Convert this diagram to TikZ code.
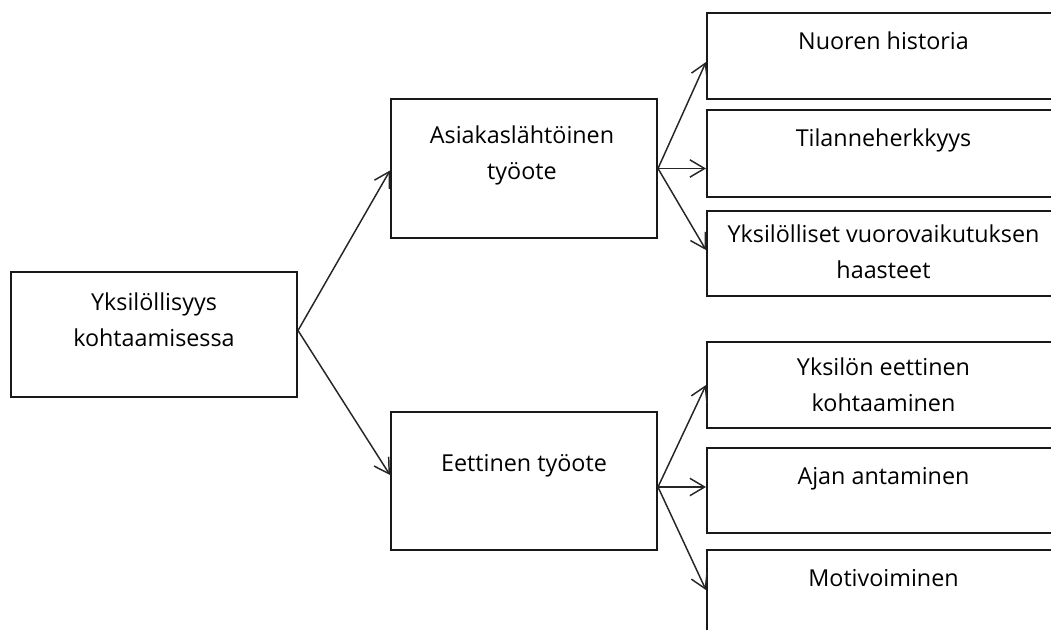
\documentclass[tikz,border=0pt]{standalone}
\usepackage{fontspec}
\setmainfont{Open Sans}
\usetikzlibrary{arrows.meta,fit}
\begin{document}
\begin{tikzpicture}[x=0.75pt,y=-0.75pt,
  box/.style={draw=black!90, line width=1.5pt, rectangle, inner sep=0pt},
  lbl/.style={anchor=base, inner sep=0pt, align=center,
    font=\fontsize{17.5}{27.5}\selectfont, text=black},
  link/.style={draw=black!85, line width=1.1pt,
    -{Straight Barb[length=11pt,width=13pt,line width=1.1pt]}}]
\fill[white] (0,0) rectangle (1051,630);
\clip (0,0) rectangle (1051,630);

% boxes
\node[box, fit={(11,272) (297,397)}] (L) {};
\node[box, fit={(391,99) (657,238)}] (A) {};
\node[box, fit={(391,412) (657,550)}] (B) {};
\node[box, fit={(707,13) (1060,99)}] (R1) {};
\node[box, fit={(707,110) (1060,197)}] (R2) {};
\node[box, fit={(707,211) (1060,296)}] (R3) {};
\node[box, fit={(707,342) (1060,428)}] (R4) {};
\node[box, fit={(707,448) (1060,533)}] (R5) {};
\node[box, fit={(707,550) (1060,636)}] (R6) {};

% labels (base anchor sits on the last line)
\node[lbl] (Lt) at (154,347) {Yksilöllisyys\\kohtaamisessa};
\node[lbl] (At) at (522,180) {Asiakaslähtöinen\\työote};
\node[lbl] (Bt) at (524,472) {Eettinen työote};
\node[lbl] (R1t) at (883.5,50) {Nuoren historia};
\node[lbl] (R2t) at (883.5,147) {Tilanneherkkyys};
\node[lbl] (R3t) at (883.5,279) {Yksilölliset vuorovaikutuksen\\haasteet};
\node[lbl] (R4t) at (883.5,412) {Yksilön eettinen\\kohtaaminen};
\node[lbl] (R5t) at (883.5,485) {Ajan antaminen};
\node[lbl] (R6t) at (883.5,587) {Motivoiminen};

% connectors
\coordinate (Lo) at ([yshift=3pt]L.east);
\coordinate (Ao) at (A.east);
\coordinate (Bo) at ([yshift=-4.5pt]B.east);
\draw[link] (Lo) -- ([yshift=-1.5pt]A.west);
\draw[link] (Lo) -- ([yshift=4.5pt]B.west);
\draw[link] (Ao) -- ([yshift=-4.5pt]R1.west);
\draw[link] (Ao) -- (Ao -| R2.west);
\draw[link] (Ao) -- ([yshift=2.6pt]R3.west);
\draw[link] (Bo) -- (R4.west);
\draw[link] (Bo) -- (Bo -| R5.west);
\draw[link] (Bo) -- ([yshift=2.2pt]R6.west);
\end{tikzpicture}
\end{document}
